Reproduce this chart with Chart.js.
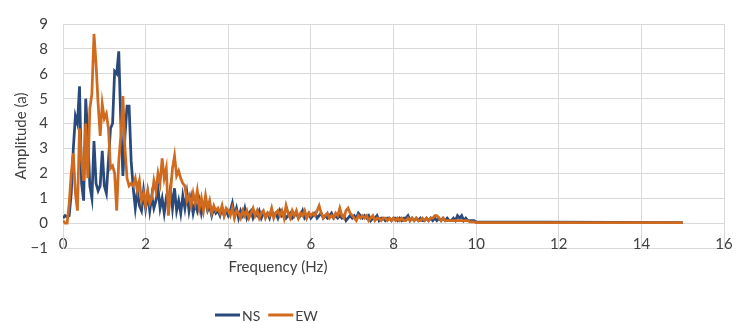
<!DOCTYPE html>
<html>
<head>
<meta charset="utf-8">
<script src="https://cdn.jsdelivr.net/npm/chart.js@4/dist/chart.umd.min.js"></script>
<style>
html, body { margin: 0; padding: 0; background: #fff; }
#wrap { width: 741px; height: 323px; }
</style>
</head>
<body>
<div id="wrap"><canvas id="lineChart"></canvas></div>
<script>
// spectrum sampled every 0.05 Hz from 0 to 10 Hz, then flat to 15 Hz
var freqStep = 0.05;
var freqLast = 15;

// y tick labels as printed on the original axis (no "7" on it)
var yTickLabels = ['\u22121', '0', '1', '2', '3', '4', '5', '6', '8', '9'];

var seriesNames = ['NS', 'EW'];

var nsAmp = [
  0.2,0.3,0.25,0.3,1.2,3.0,4.3,4.0,5.5,1.6,
  0.9,5.0,3.5,1.5,1.0,3.3,1.6,1.3,1.5,2.9,
  1.5,1.2,2.5,3.8,4.0,6.1,6.0,6.9,4.0,1.9,
  3.5,4.7,4.7,2.5,1.4,0.6,1.3,0.7,0.5,1.3,
  0.6,1.2,0.5,1.1,0.6,0.9,1.4,0.6,1.0,0.4,
  1.0,0.8,1.4,0.6,1.4,0.5,0.9,0.4,1.1,0.6,
  1.2,0.5,1.0,0.4,0.8,0.5,0.9,0.4,0.8,0.9,
  0.5,0.7,0.3,0.6,0.4,0.5,0.3,0.6,0.3,0.5,
  0.3,
  0.5,0.8,0.3,0.6,0.2,0.5,0.3,0.6,0.2,0.4,
  0.5,0.2,0.4,0.3,0.5,0.2,0.4,0.3,0.4,0.2,
  0.5,0.3,0.4,0.2,0.5,0.3,0.4,0.2,0.3,0.4,
  0.2,0.3,0.4,0.2,0.3,0.5,0.2,0.3,0.4,0.2,
  0.3,0.4,0.2,0.3,0.4,0.2,0.3,0.2,0.3,0.4,
  0.2,0.3,0.2,0.3,0.2,0.3,0.1,0.2,0.3,0.2,
  0.3,0.2,0.4,0.3,0.2,0.3,0.2,0.3,0.1,0.2,
  0.2,0.3,0.1,0.2,0.2,0.1,0.2,0.2,0.1,0.2,
  0.2,0.1,0.2,0.1,0.2,0.2,0.3,0.1,0.2,0.1,
  0.2,0.1,0.2,0.1,0.1,0.2,0.1,0.2,0.1,0.2,
  0.1,0.2,0.1,0.2,0.1,0.2,0.1,0.1,0.2,0.1,
  0.3,0.2,0.3,0.1,0.2,0.1,0.1,0.1,0.1,0.05,
  0.02
];

var ewAmp = [
  0.1,0.0,0.0,0.8,2.0,2.8,1.2,0.5,3.8,2.5,
  1.7,4.0,1.8,4.6,5.2,7.6,6.4,4.8,3.5,4.8,
  4.2,4.4,3.8,2.2,2.3,2.0,0.5,2.5,3.5,5.1,
  3.0,1.8,1.5,1.6,1.5,1.8,1.3,1.7,0.9,1.2,
  0.7,1.3,0.8,1.0,1.7,1.3,2.0,1.6,2.6,1.8,
  2.2,0.3,1.2,2.2,2.7,1.9,2.1,1.8,1.6,1.5,
  0.9,1.1,0.7,1.2,0.8,1.3,0.6,1.0,0.5,1.1,
  0.6,0.9,0.4,0.7,0.5,0.6,0.4,0.7,0.3,0.6,
  0.5,
  0.3,0.6,0.2,0.5,0.4,0.2,0.5,0.3,0.5,0.2,
  0.4,0.6,0.3,0.5,0.2,0.4,0.5,0.2,0.4,0.3,
  0.6,0.2,0.4,0.5,0.3,0.5,0.2,0.7,0.4,0.2,
  0.5,0.3,0.5,0.2,0.4,0.3,0.5,0.2,0.4,0.3,
  0.4,0.3,0.5,0.7,0.4,0.2,0.3,0.4,0.2,0.3,
  0.2,0.4,0.3,0.6,0.3,0.2,0.5,0.6,0.4,0.3,
  0.2,0.1,0.3,0.2,0.3,0.2,0.3,0.1,0.2,0.3,
  0.1,0.2,0.2,0.1,0.2,0.2,0.1,0.2,0.1,0.2,
  0.1,0.2,0.1,0.2,0.1,0.1,0.2,0.1,0.2,0.1,
  0.2,0.1,0.1,0.2,0.1,0.2,0.1,0.2,0.2,0.3,
  0.3,0.2,0.1,0.2,0.1,0.1,0.1,0.1,0.1,0.1,
  0.1,0.1,0.1,0.1,0.1,0.1,0.05,0.05,0.05,0.02,
  0.02
];

var xTitle = 'Frequency (Hz)';
var yTitle = 'Amplitude (a)';
var nsColor = '#2A4A7C';
var ewColor = '#D06A1E';
var textColor = '#404040';
var gridColor = '#D9D9D9';
var fontName = 'Lato, "Liberation Sans", sans-serif';

var freqs = [];
for (var i = 0; i < nsAmp.length - 1; i++) {
  freqs.push(Math.round(i * freqStep * 100) / 100);
}
freqs.push(freqLast);

function toPoints(vals) {
  return vals.map(function (v, i) { return { x: freqs[i], y: v }; });
}

// axis title + legend sit off-centre in the original, drawn here by hand
var bottomText = {
  id: 'bottomText',
  afterDraw: function (chart) {
    var c = chart.ctx;
    c.save();
    c.fillStyle = textColor;
    c.font = '15px ' + fontName;
    c.textAlign = 'center';
    c.textBaseline = 'middle';
    c.fillText(xTitle, 278, 267);

    c.font = '14px ' + fontName;
    c.textAlign = 'left';
    var x = 215, y = 315;
    var colors = [nsColor, ewColor];
    for (var k = 0; k < seriesNames.length; k++) {
      c.strokeStyle = colors[k];
      c.lineWidth = 3;
      c.beginPath();
      c.moveTo(x, y);
      c.lineTo(x + 25, y);
      c.stroke();
      c.fillText(seriesNames[k], x + 27, y + 1);
      x += 27 + c.measureText(seriesNames[k]).width + 8;
    }
    c.restore();
  }
};

var ctx = document.getElementById('lineChart');

var chart = new Chart(ctx, {
  type: 'line',
  data: {
    datasets: [
      {
        label: seriesNames[0],
        data: toPoints(nsAmp),
        borderColor: nsColor,
        backgroundColor: nsColor,
        borderWidth: 2.75,
        pointRadius: 0,
        fill: false,
        tension: 0,
        order: 1
      },
      {
        label: seriesNames[1],
        data: toPoints(ewAmp),
        borderColor: ewColor,
        backgroundColor: ewColor,
        borderWidth: 2.75,
        pointRadius: 0,
        fill: false,
        tension: 0,
        order: 0
      }
    ]
  },
  options: {
    responsive: true,
    maintainAspectRatio: false,
    animation: false,
    layout: { padding: { top: 16, right: 17, bottom: 0, left: 0 } },
    plugins: {
      legend: { display: false },
      tooltip: { enabled: false }
    },
    scales: {
      x: {
        type: 'linear',
        min: 0,
        max: 16,
        grid: { color: gridColor, drawTicks: false },
        border: { color: gridColor },
        ticks: {
          stepSize: 2,
          mirror: true,
          padding: -5,
          color: textColor,
          font: { family: fontName, size: 15 },
          maxRotation: 0
        },
        afterFit: function (s) { s.height = 75; }
      },
      y: {
        min: -1,
        max: 8,
        grid: { color: gridColor, drawTicks: false },
        border: { color: gridColor },
        ticks: {
          stepSize: 1,
          padding: 15,
          color: textColor,
          font: { family: fontName, size: 15 },
          callback: function (v) { return yTickLabels[v + 1]; }
        },
        title: {
          display: true,
          text: yTitle,
          color: textColor,
          font: { family: fontName, size: 15 },
          padding: { top: 12, bottom: 0 }
        },
        afterFit: function (s) { s.width = 63; }
      }
    }
  },
  plugins: [bottomText]
});
</script>
</body>
</html>
